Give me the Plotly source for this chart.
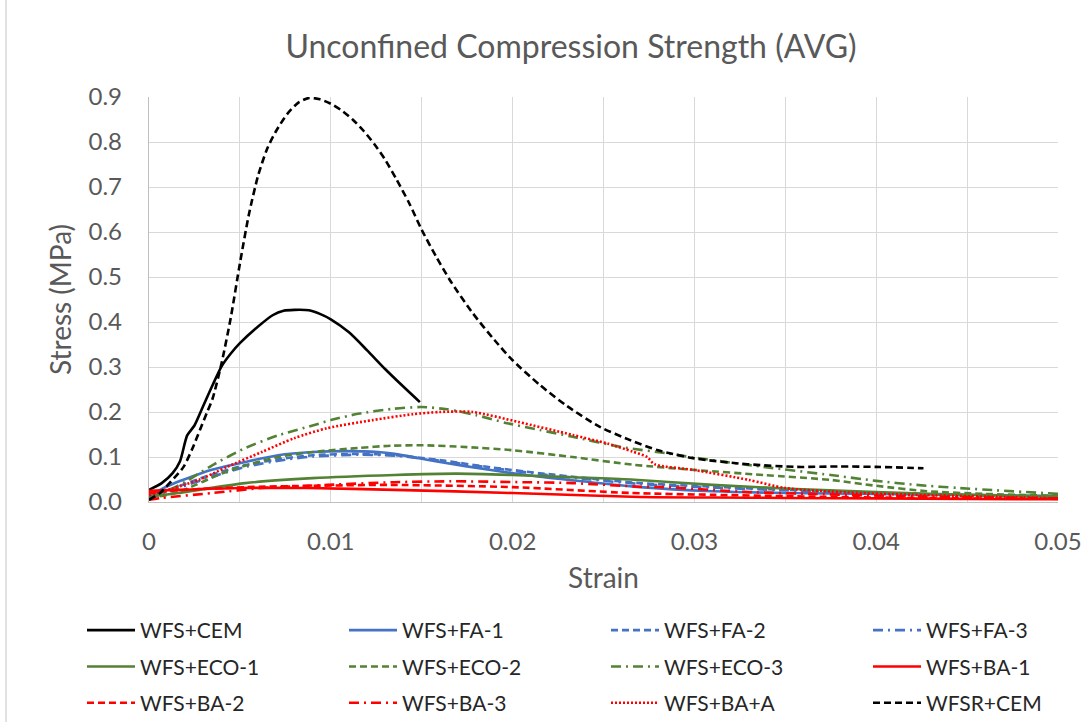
import plotly.graph_objects as go

# ---------------- data ----------------
cem_x = [0, 0.0007, 0.0013, 0.0017, 0.0021, 0.0025, 0.003, 0.0035, 0.004, 0.0045, 0.005,
         0.006, 0.0068, 0.0074, 0.008, 0.0088, 0.0094, 0.01, 0.011, 0.012, 0.013, 0.014, 0.0149]
cem_y = [0.027, 0.042, 0.064, 0.09, 0.148, 0.17, 0.215, 0.26, 0.302, 0.33, 0.353,
         0.39, 0.415, 0.425, 0.427, 0.426, 0.418, 0.406, 0.377, 0.337, 0.295, 0.256, 0.222]

fa1_x = [0, 0.001, 0.0028, 0.0035, 0.0053, 0.0071, 0.009, 0.0108, 0.0126, 0.0135, 0.016, 0.0188,
         0.0215, 0.0243, 0.027, 0.031, 0.035, 0.04, 0.045, 0.05]
fa1_y = [0.012, 0.035, 0.063, 0.072, 0.089, 0.104, 0.111, 0.113, 0.111, 0.107, 0.089, 0.071,
         0.056, 0.044, 0.033, 0.024, 0.02, 0.018, 0.016, 0.013]

fa2_x = [0, 0.001, 0.003, 0.0053, 0.0075, 0.009, 0.0115, 0.0135, 0.016, 0.0188, 0.0215, 0.0243,
         0.027, 0.031, 0.035, 0.04, 0.045, 0.05]
fa2_y = [0.01, 0.025, 0.055, 0.082, 0.097, 0.104, 0.107, 0.104, 0.093, 0.077, 0.064, 0.052,
         0.042, 0.034, 0.027, 0.02, 0.015, 0.012]

fa3_x = [0, 0.001, 0.003, 0.0053, 0.0075, 0.009, 0.0115, 0.0135, 0.016, 0.0188, 0.0215, 0.0243,
         0.027, 0.031, 0.035, 0.04, 0.045, 0.05]
fa3_y = [0.008, 0.022, 0.05, 0.078, 0.094, 0.101, 0.105, 0.103, 0.092, 0.076, 0.062, 0.05,
         0.04, 0.032, 0.026, 0.02, 0.015, 0.012]

eco1_x = [0, 0.0016, 0.0053, 0.009, 0.0135, 0.0169, 0.02, 0.0233, 0.0265, 0.031, 0.0356, 0.04,
          0.045, 0.05]
eco1_y = [0.012, 0.02, 0.042, 0.053, 0.06, 0.063, 0.06, 0.055, 0.05, 0.038, 0.029, 0.022,
          0.016, 0.012]

eco2_x = [0, 0.0016, 0.0043, 0.0071, 0.0095, 0.0115, 0.0133, 0.0151, 0.0175, 0.02, 0.0233,
          0.0266, 0.0301, 0.0338, 0.0375, 0.04, 0.0428, 0.046, 0.05]
eco2_y = [0.008, 0.022, 0.068, 0.1, 0.113, 0.12, 0.125, 0.126, 0.122, 0.115, 0.1,
          0.083, 0.071, 0.06, 0.049, 0.036, 0.024, 0.018, 0.014]

eco3_x = [0, 0.001, 0.002, 0.0035, 0.0053, 0.0071, 0.009, 0.01, 0.0115, 0.0134, 0.015, 0.0164,
          0.018, 0.0197, 0.0215, 0.0233, 0.026, 0.0285, 0.0301, 0.0338, 0.0375, 0.04, 0.0422,
          0.0446, 0.05]
eco3_y = [0.01, 0.025, 0.045, 0.082, 0.12, 0.148, 0.17, 0.182, 0.196, 0.207, 0.211, 0.206,
          0.193, 0.175, 0.16, 0.145, 0.122, 0.108, 0.098, 0.078, 0.06, 0.047, 0.038,
          0.031, 0.018]

ba1_x = [0, 0.0016, 0.005, 0.0087, 0.0135, 0.02, 0.027, 0.031, 0.035, 0.04, 0.045, 0.05]
ba1_y = [0.025, 0.027, 0.031, 0.031, 0.027, 0.02, 0.011, 0.01, 0.009, 0.008, 0.007, 0.006]

ba2_x = [0, 0.0016, 0.0053, 0.009, 0.0133, 0.02, 0.0265, 0.031, 0.035, 0.04, 0.045, 0.05]
ba2_y = [0.02, 0.026, 0.033, 0.036, 0.038, 0.033, 0.02, 0.016, 0.013, 0.01, 0.008, 0.007]

ba3_x = [0, 0.0007, 0.0035, 0.0062, 0.0098, 0.0135, 0.0166, 0.0206, 0.0233, 0.027, 0.0283,
         0.033, 0.0365, 0.0415, 0.046, 0.05]
ba3_y = [0.005, 0.009, 0.02, 0.031, 0.038, 0.044, 0.046, 0.044, 0.042, 0.034, 0.033,
         0.022, 0.018, 0.013, 0.01, 0.008]

baa_x = [0, 0.0013, 0.0028, 0.0043, 0.0062, 0.008, 0.0098, 0.0123, 0.0145, 0.016, 0.0178,
         0.0203, 0.0233, 0.0252, 0.0266, 0.0274, 0.0278, 0.03, 0.033, 0.035, 0.038, 0.042,
         0.046, 0.05]
baa_y = [0.015, 0.03, 0.05, 0.078, 0.111, 0.142, 0.164, 0.182, 0.195, 0.2, 0.2,
         0.178, 0.149, 0.13, 0.112, 0.1, 0.084, 0.071, 0.049, 0.031, 0.022, 0.016,
         0.012, 0.008]

wfsr_x = [0, 0.0006, 0.0012, 0.0019, 0.0024, 0.0028, 0.0032, 0.0035, 0.004, 0.0045, 0.005,
          0.0055, 0.006, 0.0065, 0.007, 0.0076, 0.0082, 0.0088, 0.0094, 0.01, 0.0106, 0.0112,
          0.0118, 0.0124, 0.013, 0.0136, 0.0143, 0.015, 0.0158, 0.0166, 0.0178, 0.019, 0.02,
          0.0215, 0.023, 0.0248, 0.0265, 0.028, 0.03, 0.0329, 0.0356, 0.038, 0.04, 0.0426]
wfsr_y = [0.005, 0.02, 0.045, 0.078, 0.12, 0.16, 0.2, 0.23, 0.31, 0.41, 0.53,
          0.64, 0.725, 0.785, 0.825, 0.862, 0.887, 0.898, 0.895, 0.885, 0.87, 0.85,
          0.825, 0.795, 0.76, 0.718, 0.665, 0.605, 0.545, 0.49, 0.42, 0.36, 0.315,
          0.26, 0.213, 0.167, 0.137, 0.115, 0.097, 0.084, 0.078, 0.079, 0.078, 0.075]

names = ["WFS+CEM", "WFS+FA-1", "WFS+FA-2", "WFS+FA-3",
         "WFS+ECO-1", "WFS+ECO-2", "WFS+ECO-3", "WFS+BA-1",
         "WFS+BA-2", "WFS+BA-3", "WFS+BA+A", "WFSR+CEM"]
xs = [cem_x, fa1_x, fa2_x, fa3_x, eco1_x, eco2_x, eco3_x, ba1_x, ba2_x, ba3_x, baa_x, wfsr_x]
ys = [cem_y, fa1_y, fa2_y, fa3_y, eco1_y, eco2_y, eco3_y, ba1_y, ba2_y, ba3_y, baa_y, wfsr_y]

x_tick_vals = [0, 0.01, 0.02, 0.03, 0.04, 0.05]
x_tick_text = ["0", "0.01", "0.02", "0.03", "0.04", "0.05"]

# ---------------- styles ----------------
BLACK, BLUE, GREEN, RED = "#000000", "#4472C4", "#548235", "#FF0000"
DASH = "7px,4px"
DASHDOT = "10px,5px,2px,5px"
DOT = "2px,2px"
colors = [BLACK, BLUE, BLUE, BLUE, GREEN, GREEN, GREEN, RED, RED, RED, RED, BLACK]
dashes = ["solid", "solid", DASH, DASHDOT, "solid", DASH, DASHDOT, "solid", DASH, DASHDOT, DOT, DASH]
# legend laid out as 4 columns x 3 rows (row-major order like the reference)
legend_ids = ["legend", "legend2", "legend3", "legend4"]
legends = [legend_ids[i % 4] for i in range(12)]

FONT = "Lato, 'Open Sans', sans-serif"
GRAY = "#595959"
GRID = "#D9D9D9"

fig = go.Figure()
for i in range(len(names)):
    fig.add_trace(go.Scatter(
        x=xs[i], y=ys[i], name=names[i], mode="lines",
        line=dict(color=colors[i], width=2.6, dash=dashes[i], shape="spline", smoothing=0.7),
        legend=legends[i], legendgroup=names[i],
    ))

W, H = 1089, 728
L, R, T, B = 149, 31, 97, 226
ph = H - T - B


def py(pix):
    return (H - B - pix) / ph


def px(pix):
    return (pix - L) / (W - L - R)


col_left = [82, 344, 606, 868]
leg_common = dict(orientation="v", xanchor="left", yanchor="top", y=py(610),
                  itemwidth=48, tracegroupgap=6,
                  font=dict(family=FONT, size=21, color="#262626"),
                  bgcolor="rgba(0,0,0,0)")

fig.update_layout(
    width=W, height=H,
    margin=dict(l=L, r=R, t=T, b=B, autoexpand=False),
    paper_bgcolor="white", plot_bgcolor="white",
    font=dict(family=FONT, color=GRAY),
    title=dict(text="Unconfined Compression Strength (AVG)", x=571 / W, xref="container",
               xanchor="center", y=1 - 47 / H, yref="container", yanchor="middle",
               font=dict(family=FONT, size=32, color=GRAY)),
    legend=dict(**leg_common, x=px(col_left[0])),
    legend2=dict(**leg_common, x=px(col_left[1])),
    legend3=dict(**leg_common, x=px(col_left[2])),
    legend4=dict(**leg_common, x=px(col_left[3])),
    shapes=[dict(type="line", xref="paper", yref="paper", x0=px(6), x1=px(6),
                 y0=py(0), y1=py(722), line=dict(color=GRID, width=1.5))],
)

fig.update_xaxes(
    range=[0, 0.05], tickvals=x_tick_vals, ticktext=x_tick_text,
    showgrid=True, gridcolor=GRID, gridwidth=1.3,
    minor=dict(dtick=0.005, tick0=0, showgrid=True, gridcolor=GRID, gridwidth=1.3),
    showline=True, linecolor="#BFBFBF", linewidth=1.3,
    ticks="outside", ticklen=18, tickcolor="rgba(0,0,0,0)",
    tickfont=dict(family=FONT, size=24, color=GRAY),
    title=dict(text="Strain", font=dict(family=FONT, size=28, color=GRAY), standoff=14),
    zeroline=False, automargin=False,
)
fig.update_yaxes(
    range=[0, 0.9], dtick=0.1, tick0=0, tickformat=".1f",
    showgrid=True, gridcolor=GRID, gridwidth=1.3,
    showline=True, linecolor="#BFBFBF", linewidth=1.3,
    ticks="outside", ticklen=21, tickcolor="rgba(0,0,0,0)",
    tickfont=dict(family=FONT, size=24, color=GRAY),
    title=dict(text="Stress (MPa)", font=dict(family=FONT, size=28, color=GRAY), standoff=8),
    zeroline=False, automargin=False,
)

fig.write_html("out.html")
